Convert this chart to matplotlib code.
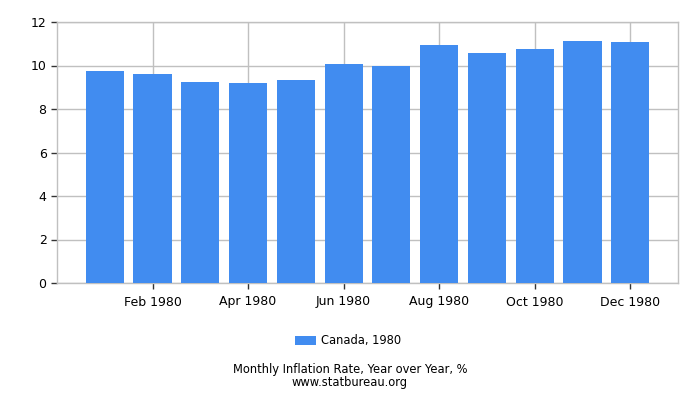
import numpy as np
from matplotlib import pyplot as plt
from matplotlib.patches import Patch

# monthly inflation, Canada 1980
months = ['Jan 1980', 'Feb 1980', 'Mar 1980', 'Apr 1980', 'May 1980', 'Jun 1980',
          'Jul 1980', 'Aug 1980', 'Sep 1980', 'Oct 1980', 'Nov 1980', 'Dec 1980']
inflation = [9.74, 9.61, 9.24, 9.20, 9.33, 10.06, 9.97, 10.92, 10.56, 10.74, 11.11, 11.06]
series_label = 'Canada, 1980'
y_ticks = [0, 2, 4, 6, 8, 10, 12]

bar_color = '#418cf0'
grid_color = '#c0c0c0'

fig = plt.figure(figsize=(7, 4), dpi=100)
ax = fig.add_axes([0.0814, 0.2925, 0.8872, 0.6525])

x = np.arange(len(months))
ax.bar(x, inflation, width=0.8, color=bar_color, zorder=3)

# axis limits and ticks
ax.set_xlim(-1, len(months))
ax.set_ylim(0, 12)
ax.set_yticks(y_ticks)
ax.set_xticks(x[1::2])
ax.set_xticklabels(months[1::2])
ax.tick_params(axis='both', labelsize=9, length=4, color='#333333', width=1)
ax.tick_params(axis='x', pad=5)

# grid and frame
ax.grid(True, color=grid_color, linewidth=1, zorder=0)
for side in ['top', 'right', 'bottom', 'left']:
    ax.spines[side].set_color(grid_color)
    ax.spines[side].set_linewidth(1)

# legend below the axes
handle = Patch(facecolor=bar_color, edgecolor='none', label=series_label)
fig.legend(handles=[handle], loc='center', bbox_to_anchor=(0.497, 0.148), frameon=False,
           fontsize=8.3, handlelength=1.8, handleheight=0.9, handletextpad=0.4)

# caption
fig.text(0.5, 0.06, 'Monthly Inflation Rate, Year over Year, %\nwww.statbureau.org',
         ha='center', va='center', fontsize=8.3, linespacing=0.95)

fig.savefig('out.png', dpi=100)
